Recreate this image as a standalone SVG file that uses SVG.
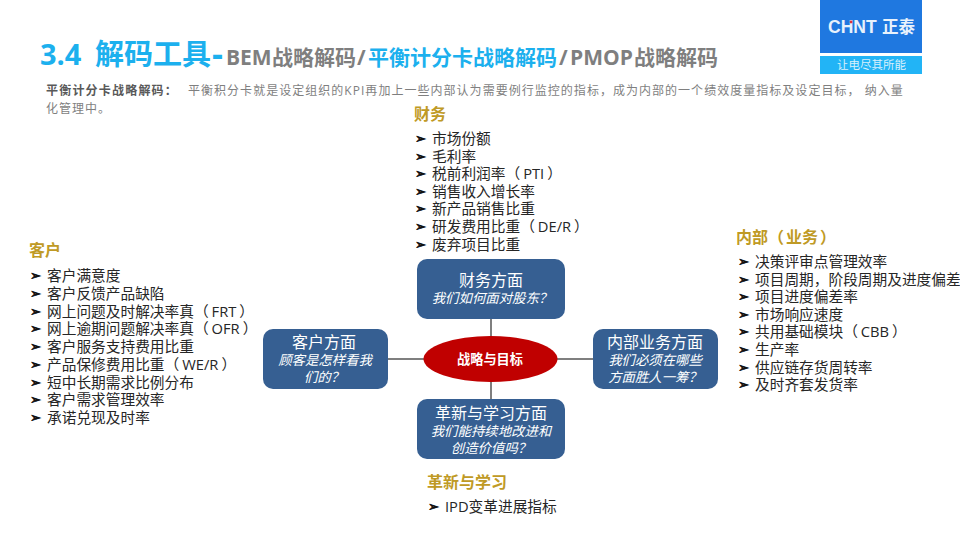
<svg xmlns="http://www.w3.org/2000/svg" width="960" height="540" viewBox="0 0 960 540">
<style>
text{font-family:"Open Sans","Noto Sans CJK SC",sans-serif}
.h{font-size:16px;font-weight:700;fill:#bf9a25}
.li{font-size:14.7px;fill:#262626}
.b{font-family:"DejaVu Sans",sans-serif;font-size:13px;fill:#111;stroke:#111;stroke-width:.7px}
.nt{font-size:16px;fill:#fff;text-anchor:middle}
.ns{font-size:13.4px;font-style:italic;fill:#fff;text-anchor:middle}
.box{fill:#365f92}
.con{stroke:#7f7f7f;stroke-width:2;fill:none}
.p{font-size:12px;fill:#7f7f7f;letter-spacing:1.03px}
.tb{font-size:29px;font-weight:700;fill:#1cb0ee}
.tg{font-size:21px;font-weight:700;fill:#7f7f7f}
.tc{font-size:21px;font-weight:700;fill:#1cb0ee}
</style>
<rect width="960" height="540" fill="#fff"/>
<g id="logo">
<rect x="820" y="0" width="102" height="53" fill="#1f78e0"/>
<rect x="820" y="56" width="102" height="18" fill="#22b4f6"/>
<text x="828" y="33" style="font-family:'Liberation Sans',sans-serif;font-size:17.5px;font-weight:700;fill:#e8f2fc">CHNT</text>
<text x="882" y="33" style="font-size:16.5px;font-weight:700;fill:#e8f2fc">正泰</text>
<circle cx="851" cy="22" r="1.4" fill="#e0303a"/>
<text x="871.500" y="69" style="font-size:11.5px;fill:#d8f0fc;text-anchor:middle">让电尽其所能</text>
</g>
<g id="title">
<text class="tb" x="40" y="65">3.4</text>
<text class="tb" x="95" y="65">解码工具</text>
<text class="tb" x="212" y="66" style="font-size:34px">-</text>
<text class="tg" x="226" y="65">BEM</text>
<text class="tg" x="272" y="65">战略解码</text>
<text class="tg" x="357" y="65">/</text>
<text class="tc" x="368" y="65">平衡计分卡战略解码</text>
<text class="tg" x="559" y="65">/</text>
<text class="tg" x="570" y="65">PMOP</text>
<text class="tg" x="634" y="65">战略解码</text>
</g>
<g id="intro">
<text x="46" y="95" class="p" style="font-weight:700;fill:#595959;letter-spacing:1.2px">平衡计分卡战略解码：</text>
<text x="188" y="95" class="p">平衡积分卡就是设定组织的KPI再加上一些内部认为需要例行监控的指标，成为内部的一个绩效度量指标及设定目标， 纳入量</text>
<text x="46" y="113" class="p">化管理中。</text>
</g>
<g id="connectors">
<line class="con" x1="491" y1="319" x2="491" y2="399"/>
<line class="con" x1="388" y1="359" x2="593" y2="359"/>
</g>
<g id="node-finance">
<rect class="box" x="417" y="259" width="148" height="60" rx="10"/>
<text class="nt" x="491" y="286">财务方面</text>
<text class="ns" x="492" y="303">我们如何面对股东？</text>
</g>
<g id="node-customer">
<rect class="box" x="263" y="329" width="125" height="60" rx="10"/>
<text class="nt" x="324" y="348">客户方面</text>
<text class="ns" x="325" y="365">顾客是怎样看我</text>
<text class="ns" x="324" y="382">们的？</text>
</g>
<g id="node-internal">
<rect class="box" x="593" y="329" width="125" height="60" rx="10"/>
<text class="nt" x="655" y="348">内部业务方面</text>
<text class="ns" x="655" y="365">我们必须在哪些</text>
<text class="ns" x="655" y="382">方面胜人一筹？</text>
</g>
<g id="node-learning">
<rect class="box" x="417" y="399" width="148" height="60" rx="10"/>
<text class="nt" x="491" y="419">革新与学习方面</text>
<text class="ns" x="491" y="436">我们能持续地改进和</text>
<text class="ns" x="491" y="453">创造价值吗？</text>
</g>
<g id="node-strategy">
<ellipse cx="490.5" cy="359" rx="67" ry="23" fill="#c00000"/>
<text x="490" y="364" font-size="13.2" font-weight="700" fill="#fff" text-anchor="middle">战略与目标</text>
</g>
<g id="list-finance">
<text class="h" x="414" y="120">财务</text>
<text class="b" x="415" y="143">➢</text><text class="li" x="432" y="144">市场份额</text>
<text class="b" x="415" y="161">➢</text><text class="li" x="432" y="162">毛利率</text>
<text class="b" x="415" y="178">➢</text><text class="li" x="432" y="179">税前利润率（<tspan dx="3">PTI</tspan><tspan dx="3">）</tspan></text>
<text class="b" x="415" y="196">➢</text><text class="li" x="432" y="197">销售收入增长率</text>
<text class="b" x="415" y="213">➢</text><text class="li" x="432" y="214">新产品销售比重</text>
<text class="b" x="415" y="231">➢</text><text class="li" x="432" y="232">研发费用比重（<tspan dx="3">DE/R</tspan><tspan dx="3">）</tspan></text>
<text class="b" x="415" y="249">➢</text><text class="li" x="432" y="250">废弃项目比重</text>
</g>
<g id="list-customer">
<text class="h" x="29" y="256">客户</text>
<text class="b" x="30" y="280">➢</text><text class="li" x="47" y="281">客户满意度</text>
<text class="b" x="30" y="298">➢</text><text class="li" x="47" y="299">客户反馈产品缺陷</text>
<text class="b" x="30" y="316">➢</text><text class="li" x="47" y="317">网上问题及时解决率真（<tspan dx="3">FRT</tspan><tspan dx="3">）</tspan></text>
<text class="b" x="30" y="333">➢</text><text class="li" x="47" y="334">网上逾期问题解决率真（<tspan dx="3">OFR</tspan><tspan dx="3">）</tspan></text>
<text class="b" x="30" y="351">➢</text><text class="li" x="47" y="352">客户服务支持费用比重</text>
<text class="b" x="30" y="369">➢</text><text class="li" x="47" y="370">产品保修费用比重（<tspan dx="3">WE/R</tspan><tspan dx="3">）</tspan></text>
<text class="b" x="30" y="387">➢</text><text class="li" x="47" y="388">短中长期需求比例分布</text>
<text class="b" x="30" y="404">➢</text><text class="li" x="47" y="405">客户需求管理效率</text>
<text class="b" x="30" y="422">➢</text><text class="li" x="47" y="423">承诺兑现及时率</text>
</g>
<g id="list-internal">
<text class="h" x="736" y="243">内部（<tspan dx="2">业务</tspan><tspan dx="2">）</tspan></text>
<text class="b" x="738" y="266">➢</text><text class="li" x="755" y="267">决策评审点管理效率</text>
<text class="b" x="738" y="284">➢</text><text class="li" x="755" y="285">项目周期，阶段周期及进度偏差</text>
<text class="b" x="738" y="301">➢</text><text class="li" x="755" y="302">项目进度偏差率</text>
<text class="b" x="738" y="319">➢</text><text class="li" x="755" y="320">市场响应速度</text>
<text class="b" x="738" y="336">➢</text><text class="li" x="755" y="337">共用基础模块（<tspan dx="3">CBB</tspan><tspan dx="3">）</tspan></text>
<text class="b" x="738" y="354">➢</text><text class="li" x="755" y="355">生产率</text>
<text class="b" x="738" y="372">➢</text><text class="li" x="755" y="373">供应链存货周转率</text>
<text class="b" x="738" y="389">➢</text><text class="li" x="755" y="390">及时齐套发货率</text>
</g>
<g id="list-learning">
<text class="h" x="427" y="488">革新与学习</text>
<text class="b" x="428" y="511">➢</text><text class="li" x="445" y="512">IPD变革进展指标</text>
</g>
</svg>
